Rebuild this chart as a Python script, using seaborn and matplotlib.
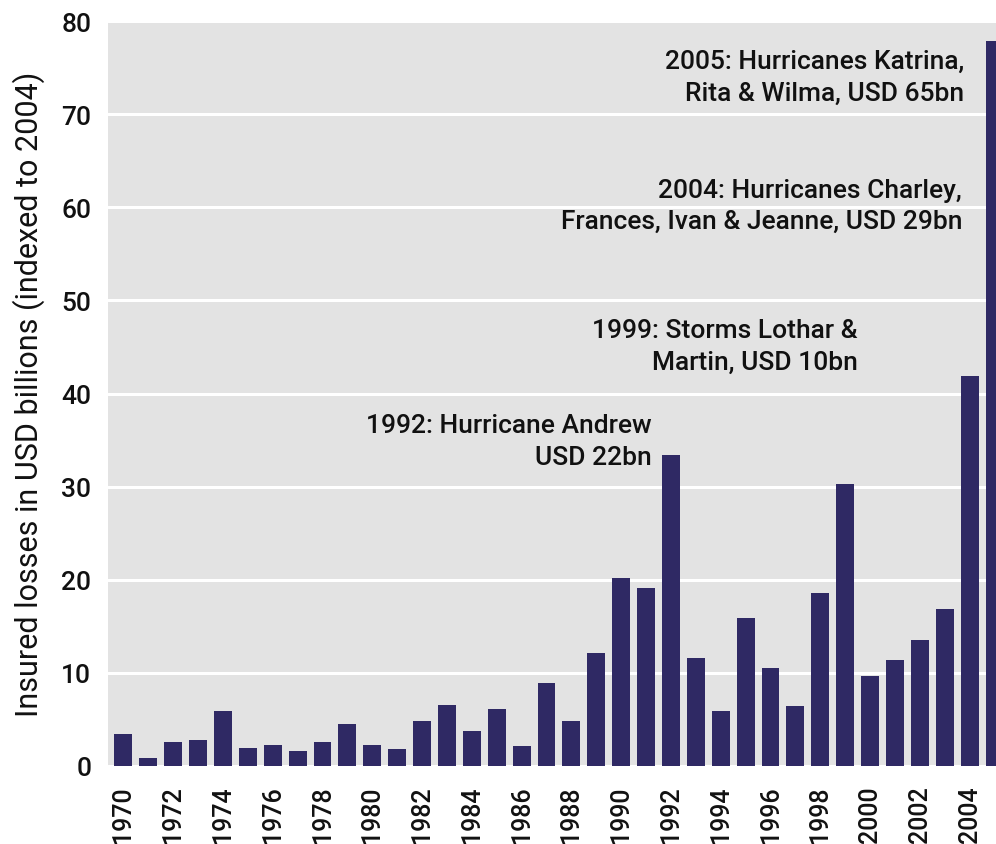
import numpy as np
import matplotlib.pyplot as plt
import pandas as pd
import seaborn as sns

# insured catastrophe losses
years = list(range(1970, 2006))
losses = [3.4, 0.9, 2.6, 2.8, 5.9, 1.9, 2.3, 1.6, 2.6, 4.5,
          2.3, 1.8, 4.8, 6.6, 3.8, 6.1, 2.1, 8.9, 4.8, 12.1,
          20.2, 19.1, 33.4, 11.6, 5.9, 15.9, 10.5, 6.4, 18.6, 30.3,
          9.7, 11.4, 13.5, 16.9, 41.9, 77.9]
yticks = [0, 10, 20, 30, 40, 50, 60, 70, 80]

# annotations: (year, y, text)
notes = [
    (2005, 74.0, "2005: Hurricanes Katrina,\nRita & Wilma, USD 65bn"),
    (2004, 60.2, "2004: Hurricanes Charley,\nFrances, Ivan & Jeanne, USD 29bn"),
    (1999, 45.1, "1999: Storms Lothar &\nMartin, USD 10bn"),
    (1992, 34.9, "1992: Hurricane Andrew\nUSD 22bn"),
]
note_x = [33.78, 33.7, 29.5, 21.24]

df = pd.DataFrame({"year": [str(y) for y in years], "loss": losses})

sns.set_style("darkgrid", {"axes.facecolor": "#e3e3e3", "grid.color": "white"})
plt.rcParams['font.family'] = ['Roboto', 'DejaVu Sans']
plt.rcParams['font.weight'] = 'medium'

fig = plt.figure(figsize=(9.96, 8.45), dpi=100)
ax = fig.add_axes([108/996, 78/845, 1 - 108/996, (823-78)/845])

sns.barplot(data=df, x="year", y="loss", color="#2f2964", saturation=1,
            width=0.72, linewidth=0, ax=ax)

ax.set_xlim(-0.62, 35.06)
ax.set_ylim(0, 80)
ax.set_yticks(yticks)
ax.set_yticklabels([str(t) for t in yticks], fontsize=19, color='#111111')
ax.set_xticks(range(0, 36, 2))
ax.set_xticklabels([str(y) for y in years[::2]], rotation=90, fontsize=18, color='#111111')
ax.tick_params(axis='y', length=0, pad=12)
ax.tick_params(axis='x', length=0, pad=14)
ax.grid(axis='x', visible=False)
ax.grid(axis='y', linewidth=2.2)
ax.set_axisbelow(True)
for s in ax.spines.values():
    s.set_visible(False)

ax.set_xlabel("")
ax.set_ylabel("Insured losses in USD billions (indexed to 2004)", fontsize=22,
              labelpad=12, color='#111111')

for (yr, yv, txt), xv in zip(notes, note_x):
    ax.text(xv, yv, txt, ha='right', va='center', multialignment='right',
            fontsize=19, linespacing=1.4, color='#111111')

plt.savefig("out.png", dpi=100)
